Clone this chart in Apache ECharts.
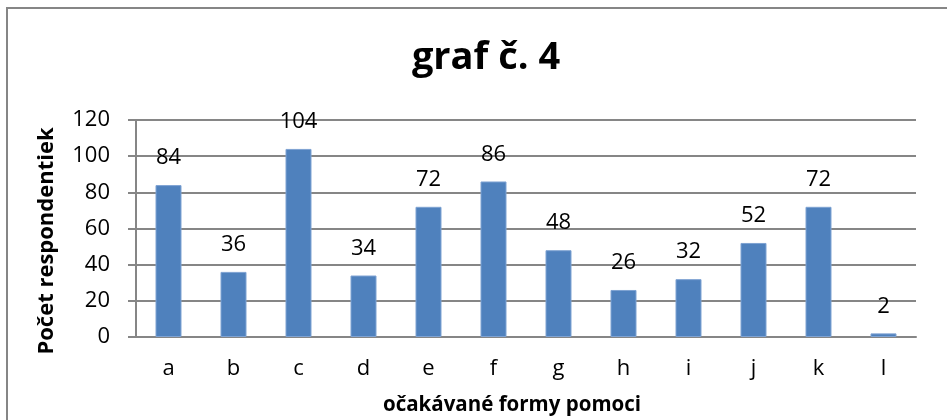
<!DOCTYPE html>
<html><head><meta charset="utf-8">
<script src="https://cdn.jsdelivr.net/npm/echarts@6/dist/echarts.min.js"></script>
<style>html,body{margin:0;padding:0;background:#fff}#c{width:947px;height:420px}</style>
</head><body><div id="c"></div>
<script>
const categories = ['a','b','c','d','e','f','g','h','i','j','k','l'];
const values = [84,36,104,34,72,86,48,26,32,52,72,2];
const yTicks = [0,20,40,60,80,100,120];
const titleText = 'graf č. 4';
const yName = 'Počet respondentiek';
const xName = 'očakávané formy pomoci';
const FONT = '"Open Sans", sans-serif';
const chart = echarts.init(document.getElementById('c'));
chart.setOption({
  animation:false,
  title:{text:titleText,left:481,top:34,textAlign:'center',textStyle:{fontFamily:FONT,fontWeight:'bold',fontSize:38,color:'#000'}},
  grid:{left:136,right:31,top:120,bottom:83},
  xAxis:{type:'category',data:categories,
    axisLine:{lineStyle:{color:'#868686',width:2}},axisTick:{show:false},
    axisLabel:{fontFamily:FONT,fontSize:22,color:'#000',margin:21}},
  yAxis:{type:'value',min:yTicks[0],max:yTicks[yTicks.length-1],interval:20,
    axisLine:{show:true,lineStyle:{color:'#868686',width:2}},
    axisTick:{show:true,inside:false,length:8,lineStyle:{color:'#868686',width:2}},
    splitLine:{lineStyle:{color:'#868686',width:2}},
    axisLabel:{fontFamily:FONT,fontSize:22,color:'#000',margin:26}},
  series:[{type:'bar',data:values,barWidth:'40%',
    itemStyle:{color:'#4F81BD',borderColor:'#7FA3D3',borderWidth:1},
    label:{show:true,position:'top',distance:16,fontFamily:FONT,fontSize:22,color:'#000'}}],
  graphic:[
    {type:'rect',shape:{x:7,y:8,width:1100,height:1100},style:{fill:'none',stroke:'#868686',lineWidth:2},silent:true},
    {type:'text',x:47,y:241,rotation:Math.PI/2,style:{text:yName,fontFamily:FONT,fontWeight:'bold',fontSize:22,fill:'#000',textAlign:'center',textVerticalAlign:'middle'}},
    {type:'text',x:512,y:405,style:{text:xName,fontFamily:FONT,fontWeight:'bold',fontSize:20.5,fill:'#000',textAlign:'center',textVerticalAlign:'middle'}}
  ]
});
</script></body></html>
